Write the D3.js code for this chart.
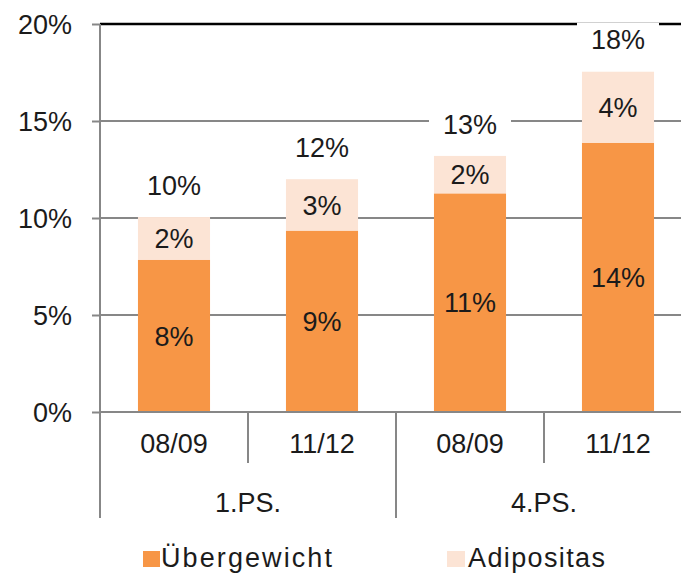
<!DOCTYPE html>
<html>
<head>
<meta charset="utf-8">
<script src="https://cdn.jsdelivr.net/npm/d3@7/dist/d3.min.js"></script>
<style>
  html, body { margin: 0; padding: 0; background: #fff; }
  svg { display: block; }
  text { font-family: "Liberation Sans", Arial, sans-serif; fill: #1b1b1b; }
</style>
</head>
<body>
<svg id="chart" width="681" height="575"></svg>
<script>
// ---- data ----
const categories = ["08/09", "11/12", "08/09", "11/12"];
const groups = ["1.PS.", "4.PS."];
const seriesNames = ["Übergewicht", "Adipositas"];
const uebergewicht = [7.85, 9.35, 11.27, 13.88];
const adipositas = [2.2, 2.65, 1.93, 3.66];
const yTicks = [0, 5, 10, 15, 20];

(function () {
// ---- layout ----
const svg = d3.select("#chart");
const pLeft = 100, pRight = 692, pTop = 24, pBottom = 412;
const colors = ["#F79646", "#FCE4D5"];
const fs = 27;

const x = d3.scaleBand().domain(d3.range(categories.length))
  .range([pLeft, pRight]).paddingInner(0.513).paddingOuter(0.2565);
const step = x.step();
const y = d3.scaleLinear().domain([0, 20]).range([pBottom, pTop]);

// gridlines
svg.append("g").selectAll("line").data(yTicks.filter(d => d > 0)).join("line")
  .attr("x1", pLeft).attr("x2", 681)
  .attr("y1", d => y(d)).attr("y2", d => y(d))
  .attr("stroke", d => d === 20 ? "#000" : "#878787")
  .attr("stroke-width", d => d === 20 ? 2.6 : 2);

// y axis ticks and labels
const yAxis = d3.axisLeft(y).tickValues(yTicks).tickFormat(d => d + "%")
  .tickSize(8).tickPadding(20);
const gy = svg.append("g").attr("transform", `translate(${pLeft},0)`).call(yAxis);
gy.select(".domain").remove();
gy.selectAll(".tick line").attr("stroke", "#878787").attr("stroke-width", 2);
gy.selectAll(".tick text").attr("font-size", fs).attr("font-family", "Liberation Sans, Arial, sans-serif")
  .attr("fill", "#1b1b1b").attr("dy", "0.36em");

// stacked bars
const stackData = categories.map((c, i) => ({ i, u: uebergewicht[i], a: adipositas[i] }));
const stack = d3.stack().keys(["u", "a"])(stackData);
const gBars = svg.append("g");
stack.forEach((layer, k) => {
  gBars.append("g").selectAll("rect").data(layer).join("rect")
    .attr("x", d => x(d.data.i))
    .attr("width", x.bandwidth())
    .attr("y", d => y(d[1]))
    .attr("height", d => y(d[0]) - y(d[1]))
    .attr("fill", colors[k]);
});

// segment labels
stack.forEach((layer, k) => {
  svg.append("g").selectAll("text").data(layer).join("text")
    .attr("x", d => x(d.data.i) + x.bandwidth() / 2)
    .attr("y", d => (y(d[0]) + y(d[1])) / 2)
    .attr("dy", "0.36em")
    .attr("text-anchor", "middle").attr("font-size", fs)
    .text(d => Math.round(d[1] - d[0]) + "%");
});

// total labels with white background
const totals = stackData.map(d => ({ i: d.i, t: d.u + d.a }));
const gTot = svg.append("g");
gTot.selectAll("rect").data(totals).join("rect")
  .attr("x", d => x(d.i) + x.bandwidth() / 2 - 41)
  .attr("y", d => y(d.t) - 32 - 17)
  .attr("width", 82).attr("height", 34).attr("fill", "#fff");
gTot.selectAll("text").data(totals).join("text")
  .attr("x", d => x(d.i) + x.bandwidth() / 2)
  .attr("y", d => y(d.t) - 32)
  .attr("dy", "0.36em")
  .attr("text-anchor", "middle").attr("font-size", fs)
  .text(d => Math.round(d.t) + "%");

// axes lines
svg.append("line").attr("x1", pLeft).attr("x2", pLeft).attr("y1", pTop).attr("y2", 518)
  .attr("stroke", "#878787").attr("stroke-width", 2);
svg.append("line").attr("x1", pLeft).attr("x2", 681).attr("y1", pBottom).attr("y2", pBottom)
  .attr("stroke", "#878787").attr("stroke-width", 2);

// category separators
const seps = d3.range(1, categories.length + 1);
svg.append("g").selectAll("line").data(seps).join("line")
  .attr("x1", d => pLeft + d * step).attr("x2", d => pLeft + d * step)
  .attr("y1", pBottom).attr("y2", d => d % 2 === 0 ? 518 : 463)
  .attr("stroke", "#878787").attr("stroke-width", 2);

// category labels
svg.append("g").selectAll("text").data(categories).join("text")
  .attr("x", (d, i) => x(i) + x.bandwidth() / 2)
  .attr("y", 443).attr("dy", "0.36em")
  .attr("text-anchor", "middle").attr("font-size", fs)
  .text(d => d);

// group labels
svg.append("g").selectAll("text").data(groups).join("text")
  .attr("x", (d, i) => pLeft + step * (2 * i + 1))
  .attr("y", 502).attr("dy", "0.36em")
  .attr("text-anchor", "middle").attr("font-size", fs)
  .text(d => d);

// legend
const legendPos = [{ sx: 143, sw: 17, tx: 161, tl: 171 }, { sx: 447, sw: 18, tx: 468, tl: 137 }];
const gl = svg.append("g");
seriesNames.forEach((name, k) => {
  const p = legendPos[k];
  gl.append("rect").attr("x", p.sx).attr("y", 551).attr("width", p.sw).attr("height", 16)
    .attr("fill", colors[k]);
  gl.append("text").attr("x", p.tx).attr("y", 567).attr("font-size", fs)
    .attr("textLength", p.tl).attr("lengthAdjust", "spacing")
    .text(name);
});
})();
</script>
</body>
</html>
